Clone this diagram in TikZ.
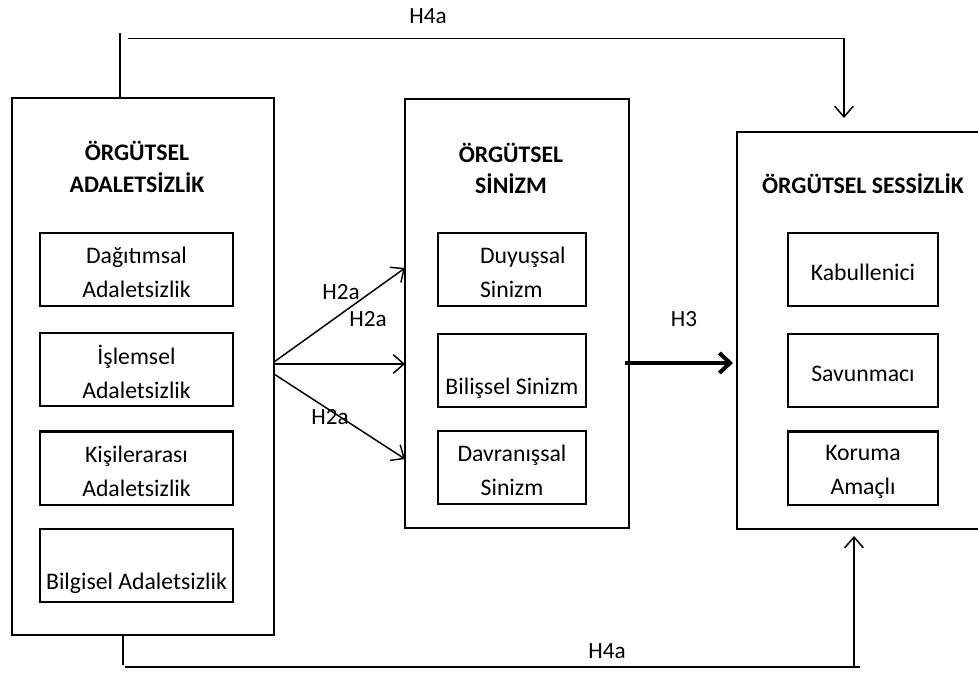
\documentclass[tikz,border=0pt]{standalone}
\usepackage{fontspec}
\setmainfont{Carlito}
\usetikzlibrary{arrows.meta}
\newcommand\pxl{0.75pt}
\newcommand\tstr{\rule{0pt}{17pt}}
\begin{document}
\begin{tikzpicture}[x=0.75pt,y=-0.75pt,
  bigbox/.style={draw, line width=1.5pt, inner sep=0pt},
  subbox/.style={draw, line width=1.5pt, inner sep=0pt, align=center,
    minimum height=73*\pxl, font=\fontsize{17.8pt}{25.5pt}\selectfont},
  ttl/.style={font=\bfseries\fontsize{17.8pt}{23.5pt}\selectfont, align=center, inner sep=0pt},
  lbl/.style={font=\fontsize{17.4pt}{20pt}\selectfont, inner sep=0pt},
  conn/.style={line width=1.1pt},
  arr/.style={conn, -{Straight Barb[length=8pt,width=14pt]}},
  thickarr/.style={line width=3pt, -{Straight Barb[length=8pt,width=15pt]}}]
\useasboundingbox (0,0) rectangle (978,673);
\clip (0,0) rectangle (978,673);

% big boxes
\node[bigbox, minimum width=262*\pxl, minimum height=537*\pxl] (L) at (143,366.5) {};
\node[bigbox, minimum width=224*\pxl, minimum height=429*\pxl] (M) at (517,313.5) {};
\node[bigbox, minimum width=252*\pxl, minimum height=397*\pxl] (R) at (863,330.5) {};

% titles
\node[ttl] (Lt) at (137,167) {ÖRGÜTSEL\\ADALETSİZLİK};
\node[ttl] (Mt) at (511,168.5) {ÖRGÜTSEL\\SİNİZM};
\node[ttl] (Rt) at (863,184) {ÖRGÜTSEL SESSİZLİK};

% left sub boxes
\node[subbox, minimum width=193*\pxl] (d1) at (136.5,269.5) {\tstr Dağıtımsal\\Adaletsizlik};
\node[subbox, minimum width=193*\pxl] (d2) at (136.5,370) {\tstr İşlemsel\\Adaletsizlik};
\node[subbox, minimum width=193*\pxl] (d3) at (136.5,468) {\tstr Kişilerarası\\Adaletsizlik};
\node[subbox, minimum width=193*\pxl] (d4) at (136.5,565) {\strut\\[1pt]\strut Bilgisel Adaletsizlik};

% middle sub boxes
\node[subbox, minimum width=148*\pxl, text width=111pt, align=left] (m1) at (512,269.5)
  {\tstr\hspace*{31.5pt}Duyuşsal\\\hspace*{31.5pt}Sinizm};
\node[subbox, minimum width=148*\pxl] (m2) at (512,370.5) {\strut\\[1pt]\strut Bilişsel Sinizm};
\node[subbox, minimum width=148*\pxl] (m3) at (512,467.5) {\tstr Davranışsal\\Sinizm};

% right sub boxes
\node[subbox, minimum width=150*\pxl] (r1) at (863,269.5) {\tstr Kabullenici};
\node[subbox, minimum width=150*\pxl] (r2) at (863,370.5) {\tstr Savunmacı};
\node[subbox, minimum width=150*\pxl] (r3) at (863,468) {\tstr Koruma\\Amaçlı};

% H2a arrows
\coordinate (a1s) at (274,362);
\coordinate (a1e) at (405,268);
\coordinate (a2s) at (274,364);
\coordinate (a2e) at (405,364);
\coordinate (a3s) at (274,374);
\coordinate (a3e) at (405,459);
\draw[arr] (a1s) -- (a1e);
\draw[arr] (a2s) -- (a2e);
\draw[arr] (a3s) -- (a3e);
\node[lbl] (h2a1) at (341,292) {H2a};
\node[lbl] (h2a2) at (368,319) {H2a};
\node[lbl] (h2a3) at (330,417) {H2a};

% H3 arrow
\coordinate (h3s) at (625,363);
\coordinate (h3e) at (733,363);
\draw[thickarr] (h3s) -- (h3e);
\node[lbl] (h3) at (684,319) {H3};

% top H4a
\coordinate (ts) at (120,33);
\draw[conn] (ts) -- (L.north -| ts);
\coordinate (t1) at (128,38.5);
\coordinate (t2) at (844,38.5);
\coordinate (t3) at (844,118);
\draw[conn] (t1) -- (t2);
\draw[arr] (t2) -- (t3);
\node[lbl] (h4top) at (428,16) {H4a};

% bottom H4a
\coordinate (bs) at (123,665);
\draw[conn] (L.south -| bs) -- (bs);
\coordinate (b1) at (125,667);
\coordinate (b2) at (860,667);
\coordinate (b3) at (854,667);
\coordinate (b4) at (854,536);
\draw[conn] (b1) -- (b2);
\draw[arr] (b3) -- (b4);
\node[lbl] (h4bot) at (607,651) {H4a};
\end{tikzpicture}
\end{document}
